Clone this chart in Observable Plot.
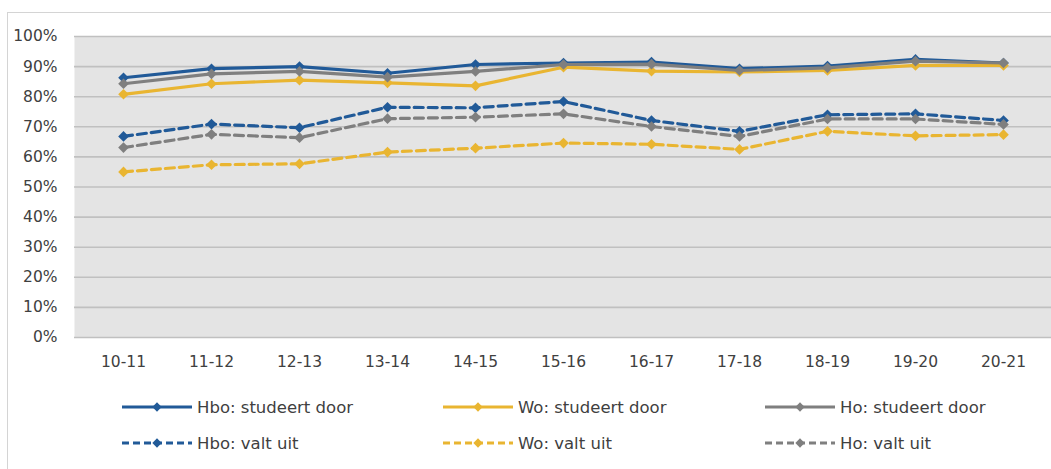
<!DOCTYPE html>
<html><head><meta charset="utf-8">
<script src="https://cdn.jsdelivr.net/npm/d3@7"></script>
<script src="https://cdn.jsdelivr.net/npm/@observablehq/plot@0.6"></script>
<style>
body{margin:0;background:#fff;font-family:"DejaVu Sans",sans-serif;}
#wrap{position:relative;width:1051px;height:469px;overflow:hidden;}
#border{position:absolute;left:7px;top:12px;width:1100px;height:500px;border-left:1.5px solid #D4D4D4;border-top:1.5px solid #D4D4D4;}
#chart{position:absolute;left:0;top:0;}
#legend{position:absolute;left:0;top:0;width:1051px;height:469px;}
.item{position:absolute;display:flex;align-items:center;height:20px;font-size:16.5px;color:#404040;white-space:nowrap;}
.item svg{margin-right:4px;}
</style>
</head><body>
<div id="wrap"><div id="border"></div><div id="chart"></div><div id="legend"></div></div>
<script>
const years = ["10-11","11-12","12-13","13-14","14-15","15-16","16-17","17-18","18-19","19-20","20-21"];
const hboDoor = [86.3, 89.3, 90.0, 87.8, 90.7, 91.2, 91.5, 89.3, 90.2, 92.4, 91.2];
const woDoor  = [80.8, 84.3, 85.5, 84.6, 83.6, 89.8, 88.5, 88.2, 88.7, 90.4, 90.4];
const hoDoor  = [84.3, 87.6, 88.4, 86.5, 88.4, 90.7, 90.8, 88.7, 89.6, 91.8, 91.2];
const hboUit  = [66.8, 70.9, 69.7, 76.5, 76.3, 78.4, 72.1, 68.5, 74.0, 74.3, 72.1];
const woUit   = [55.0, 57.4, 57.7, 61.6, 62.9, 64.6, 64.2, 62.5, 68.5, 67.0, 67.4];
const hoUit   = [63.1, 67.5, 66.4, 72.7, 73.2, 74.3, 70.1, 66.8, 72.6, 72.6, 70.8];
const yTicks = [0,10,20,30,40,50,60,70,80,90,100];

const BLUE="#215A98", GOLD="#E9B531", GRAY="#7F7F7F";
const series = [
  {name:"Hbo: studeert door", values:hboDoor, color:BLUE, dash:false},
  {name:"Wo: studeert door",  values:woDoor,  color:GOLD, dash:false},
  {name:"Ho: studeert door",  values:hoDoor,  color:GRAY, dash:false},
  {name:"Hbo: valt uit",      values:hboUit,  color:BLUE, dash:true},
  {name:"Wo: valt uit",       values:woUit,   color:GOLD, dash:true},
  {name:"Ho: valt uit",       values:hoUit,   color:GRAY, dash:true}
];
const DASH="9,5";

const marks = [
  Plot.frame({fill:"#E4E4E4", stroke:null}),
  Plot.ruleY(yTicks, {stroke:"#C0C0C0", strokeWidth:1.6}),
  Plot.axisX({tickSize:0, tickPadding:18, fontSize:15.5}),
  Plot.axisY({ticks:yTicks, tickFormat:d=>d+"%", tickSize:0, tickPadding:17, fontSize:15.5})
];
for (const s of series) {
  const data = years.map((y,i)=>({year:y, value:s.values[i]}));
  marks.push(Plot.line(data, {x:"year", y:"value", stroke:s.color, strokeWidth:3.2,
    strokeDasharray: s.dash ? DASH : null, strokeLinejoin:"round"}));
  marks.push(Plot.dot(data, {x:"year", y:"value", symbol:"diamond2", r:4.8, fill:s.color, stroke:null}));
}

const chart = Plot.plot({
  width:1051, height:375,
  marginLeft:74, marginRight:0, marginTop:36, marginBottom:38,
  x:{type:"point", domain:years, padding:0.5, label:null},
  y:{domain:[0,100], label:null},
  style:{fontFamily:"'DejaVu Sans', sans-serif", color:"#404040", background:"transparent", overflow:"visible"},
  marks
});
document.getElementById("chart").appendChild(chart);

// legend
const legend = document.getElementById("legend");
const colX = [121, 442, 764];
const rowY = [407, 443];
series.forEach((s,i)=>{
  const col = i % 3, row = Math.floor(i/3);
  const div = document.createElement("div");
  div.className = "item";
  div.style.left = colX[col] + "px";
  div.style.top = (rowY[row]-10) + "px";
  const svg = d3.create("svg").attr("width",72).attr("height",20);
  svg.append("line").attr("x1",1).attr("x2",71).attr("y1",10).attr("y2",10)
    .attr("stroke",s.color).attr("stroke-width",3).attr("stroke-dasharray", s.dash ? "7,4" : null);
  svg.append("path").attr("d", d3.symbol(d3.symbolDiamond2, 55)()).attr("transform","translate(36,10)").attr("fill",s.color);
  div.appendChild(svg.node());
  const t = document.createElement("span");
  t.textContent = s.name;
  div.appendChild(t);
  legend.appendChild(div);
});
</script>
</body></html>
